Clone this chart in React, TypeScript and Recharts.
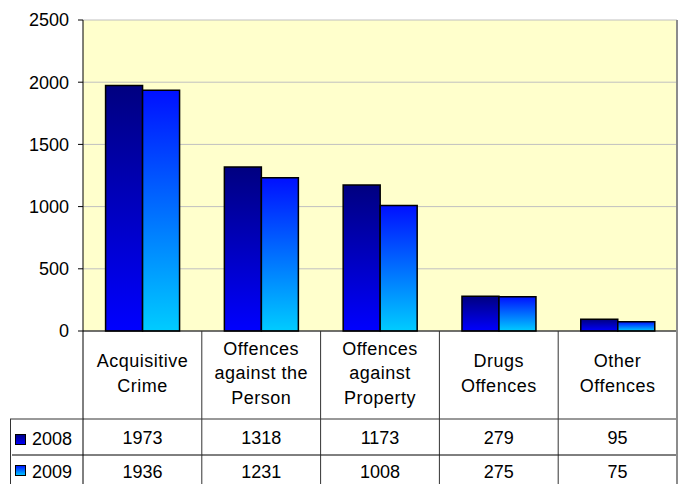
import React from 'react';
import { BarChart, Bar, XAxis, YAxis, CartesianGrid } from 'recharts';

const categories = [
  'Acquisitive\nCrime',
  'Offences\nagainst the\nPerson',
  'Offences\nagainst\nProperty',
  'Drugs\nOffences',
  'Other\nOffences',
];
const seriesNames = ['2008', '2009'];
const series2008 = [1973, 1318, 1173, 279, 95];
const series2009 = [1936, 1231, 1008, 275, 75];
const yTicks = [0, 500, 1000, 1500, 2000, 2500];

const data = categories.map((c, i) => ({ category: c, v2008: series2008[i], v2009: series2009[i] }));

const W = 680;
const H = 484;
const PLOT_LEFT = 83;
const PLOT_RIGHT = 677;
const PLOT_TOP = 20;
const PLOT_BOTTOM = 331;
const ROW1 = 419;
const ROW2 = 455;
const FONT = '"Liberation Sans", Arial, sans-serif';
const LINE = '#333';

const TableTick = (props: any) => {
  const { x, payload } = props;
  const index: number = payload.index;
  const colW = (PLOT_RIGHT - PLOT_LEFT) / categories.length;
  const left = x - colW / 2;
  const right = x + colW / 2;
  const lines = String(payload.value).split('\n');
  const center = 373;
  const lh = 24.5;
  const isLast = index === categories.length - 1;
  return (
    <g>
      {lines.map((ln, i) => (
        <text
          key={i}
          x={x}
          y={center + (i - (lines.length - 1) / 2) * lh}
          dy="0.355em"
          textAnchor="middle"
          fontSize={18}
          fontFamily={FONT}
          letterSpacing={0.5}
          fill="#000"
        >
          {ln}
        </text>
      ))}
      <text x={x} y={437.5} dy="0.355em" textAnchor="middle" fontSize={18} fontFamily={FONT} fill="#000">
        {series2008[index]}
      </text>
      <text x={x} y={472} dy="0.355em" textAnchor="middle" fontSize={18} fontFamily={FONT} fill="#000">
        {series2009[index]}
      </text>
      <line x1={left} x2={right} y1={ROW1} y2={ROW1} stroke={LINE} strokeWidth={1} />
      <line x1={left} x2={right} y1={ROW2} y2={ROW2} stroke="#000" strokeWidth={1} />
      {!isLast && <line x1={right} x2={right} y1={PLOT_BOTTOM} y2={H} stroke={LINE} strokeWidth={1} />}
      {isLast && <line x1={PLOT_RIGHT} x2={PLOT_RIGHT} y1={PLOT_TOP} y2={H} stroke="#8c8c8c" strokeWidth={2} />}
      {index === 0 && (
        <g>
          <line x1={PLOT_LEFT} x2={PLOT_LEFT} y1={PLOT_BOTTOM} y2={H} stroke="#000" strokeWidth={1} />
          <line x1={10} x2={left} y1={ROW1} y2={ROW1} stroke={LINE} strokeWidth={1} />
          <line x1={12} x2={left} y1={ROW2} y2={ROW2} stroke="#000" strokeWidth={1} />
          <line x1={10.5} x2={10.5} y1={ROW1} y2={H} stroke={LINE} strokeWidth={1} />
          <rect x={15.5} y={434.5} width={10} height={10} fill="url(#g2008)" stroke="#000" strokeWidth={1} />
          <text x={32} y={438.5} dy="0.355em" fontSize={18} fontFamily={FONT} fill="#000">
            {seriesNames[0]}
          </text>
          <rect x={15.5} y={465.5} width={10} height={10} fill="url(#g2009)" stroke="#000" strokeWidth={1} />
          <text x={32} y={472} dy="0.355em" fontSize={18} fontFamily={FONT} fill="#000">
            {seriesNames[1]}
          </text>
        </g>
      )}
    </g>
  );
};

export default function App() {
  return (
    <div style={{ position: 'absolute', left: 0, top: 0, width: W, height: H, background: '#fff', fontFamily: FONT }}>
      <BarChart
        width={W}
        height={H}
        data={data}
        margin={{ top: PLOT_TOP, right: W - PLOT_RIGHT, left: 0, bottom: 0 }}
        barCategoryGap="19%"
        barGap={0}
      >
        <defs>
          <linearGradient id="g2008" x1="0" y1="0" x2="0" y2="1">
            <stop offset="0%" stopColor="#000080" />
            <stop offset="100%" stopColor="#0000FF" />
          </linearGradient>
          <linearGradient id="g2009" x1="0" y1="0" x2="0" y2="1">
            <stop offset="0%" stopColor="#0010FF" />
            <stop offset="100%" stopColor="#00CCFF" />
          </linearGradient>
        </defs>
        <CartesianGrid vertical={false} stroke="#C0C0C0" fill="#FFFFCC" />
        <XAxis
          dataKey="category"
          height={H - PLOT_BOTTOM}
          axisLine={{ stroke: '#000', strokeWidth: 1 }}
          tickLine={false}
          interval={0}
          tick={TableTick}
        />
        <YAxis
          width={PLOT_LEFT}
          domain={[0, 2500]}
          ticks={yTicks}
          interval={0}
          axisLine={{ stroke: '#000', strokeWidth: 1 }}
          tickLine={{ stroke: '#000' }}
          tickSize={5}
          tickMargin={9}
          tick={{ fill: '#000', fontSize: 18, fontFamily: FONT }}
        />
        <Bar dataKey="v2008" name={seriesNames[0]} fill="url(#g2008)" stroke="#000" strokeWidth={1.5} isAnimationActive={false} />
        <Bar dataKey="v2009" name={seriesNames[1]} fill="url(#g2009)" stroke="#000" strokeWidth={1.5} isAnimationActive={false} />
      </BarChart>
    </div>
  );
}
